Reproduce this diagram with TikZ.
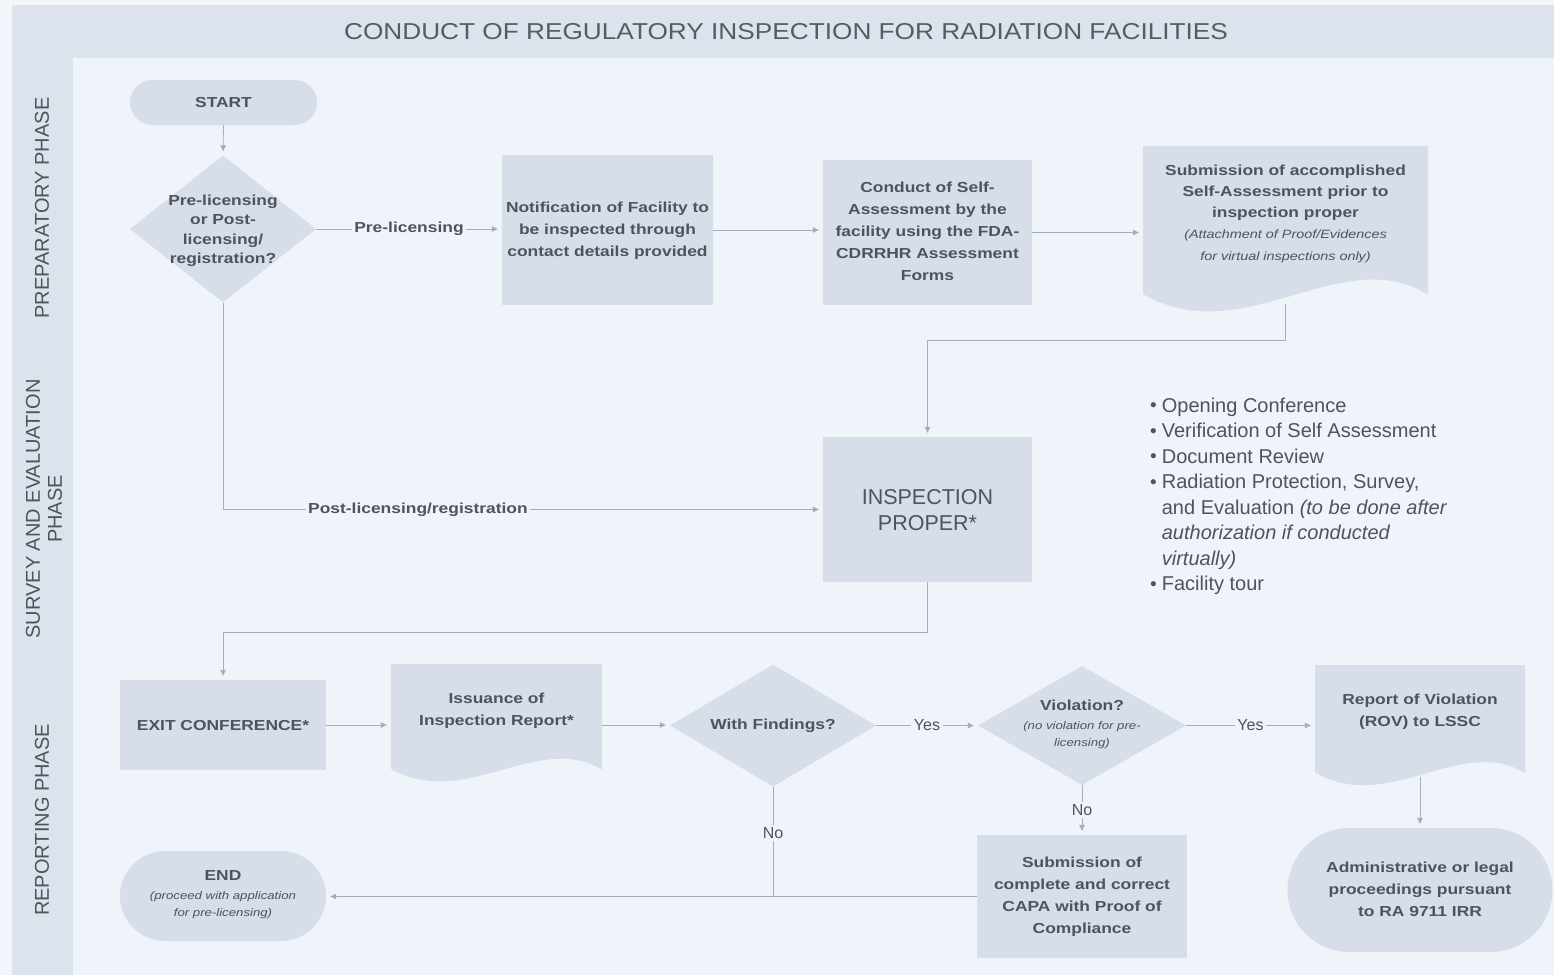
\documentclass[tikz,border=0pt]{standalone}
\usepackage{fontspec}
\setmainfont{Liberation Sans}
\newfontfamily\wide[FakeStretch=1.2]{Liberation Sans}
\newfontfamily\titlef[FakeStretch=1.14]{Liberation Sans}
\usetikzlibrary{shapes.geometric,shapes.misc,arrows.meta,calc}
\definecolor{outerc}{HTML}{F2F6FA}
\definecolor{bandc}{HTML}{DCE3ED}
\definecolor{innerc}{HTML}{EEF4FA}
\definecolor{nodec}{HTML}{D7DDE9}
\definecolor{textc}{HTML}{4E545C}
\definecolor{titlec}{HTML}{565C64}
\definecolor{linec}{HTML}{A6ADB6}
\newcommand{\zb}[2][-3.6pt]{\smash{\makebox[0pt]{\raisebox{#1}{\begin{tabular}{@{}c@{}}#2\end{tabular}}}}}
\newcommand{\smit}[1]{{\mdseries\itshape\fontsize{12}{15}\selectfont #1}}
\newcommand{\tnit}[1]{{\mdseries\itshape\fontsize{11}{13}\selectfont #1}}
\newcommand{\bul}{{\fontsize{19}{19}\selectfont\raisebox{0.5pt}{•}}}
\tikzset{
  base/.style={inner sep=0pt, text=textc, font=\wide\bfseries\fontsize{14.5}{22}\selectfont},
  box/.style={base, rectangle, fill=nodec},
  term/.style={base, rounded rectangle, fill=nodec},
  dec/.style={base, diamond, fill=nodec},
  doc/.style={base, rectangle, path picture={
    \fill[nodec] let \p1=(path picture bounding box.south west), \p2=(path picture bounding box.north east) in
      (\x1,\y2) -- (\x2,\y2) -- (\x2,{\y1+0.135*(\y2-\y1)})
      .. controls ({\x1+0.7*(\x2-\x1)},{\y1+0.45*(\y2-\y1)}) and ({\x1+0.35*(\x2-\x1)},{\y1-0.2*(\y2-\y1)}) ..
      (\x1,{\y1+0.14*(\y2-\y1)}) -- cycle;}},
  arr/.style={draw=linec, line width=0.8pt, -{Triangle[length=6pt,width=5.5pt]}, shorten >=4pt},
  con/.style={draw=linec, line width=0.8pt},
  lbl/.style={fill=innerc, inner sep=2.5pt, text=textc, font=\fontsize{16}{19}\selectfont},
  blbl/.style={lbl, font=\wide\bfseries\fontsize{14.5}{18}\selectfont},
  lane/.style={rotate=90, text=textc, align=center, font=\fontsize{20}{22}\selectfont},
}
\begin{document}
\begin{tikzpicture}[x=1pt,y=-1pt]
\useasboundingbox (0,0) rectangle (1554,975);
\fill[outerc] (0,0) rectangle (1554,975);
\fill[bandc] (12,5) rectangle (1554,975);
\fill[innerc] (73,58) rectangle (1554,975);

\node[text=titlec, font=\titlef\fontsize{23}{27}\selectfont] (title) at (786,32) {CONDUCT OF REGULATORY INSPECTION FOR RADIATION FACILITIES};
\node[lane] (lane1) at (42,208) {PREPARATORY PHASE};
\node[lane] (lane2) at (44,509) {SURVEY AND EVALUATION\\PHASE};
\node[lane] (lane3) at (42,820) {REPORTING PHASE};

% nodes
\node[term, minimum width=187pt, minimum height=45pt] (start) at (223.5,102.5) {START};
\node[dec, minimum width=186pt, minimum height=147pt, font=\wide\bfseries\fontsize{14.5}{19.5}\selectfont] (d1) at (223,229) {\zb[-5pt]{Pre-licensing\\or Post-\\licensing/\\registration?}};
\node[box, minimum width=211pt, minimum height=150pt] (notif) at (607.5,230) {\zb{Notification of Facility to\\be inspected through\\contact details provided}};
\node[box, minimum width=209pt, minimum height=145pt] (conduct) at (927.5,232.5) {\zb{Conduct of Self-\\Assessment by the\\facility using the FDA-\\CDRRHR Assessment\\Forms}};
\node[doc, minimum width=285pt, minimum height=172pt, font=\wide\bfseries\fontsize{14.5}{21.3}\selectfont] (sub) at (1285.5,232) {\zb[15pt]{Submission of accomplished\\Self-Assessment prior to\\inspection proper\\\smit{(Attachment of Proof/Evidences}\\\smit{for virtual inspections only)}}};
\node[box, minimum width=209pt, minimum height=145pt, font=\fontsize{21.5}{26}\selectfont] (insp) at (927.5,509.5) {\zb[-8pt]{INSPECTION\\PROPER*}};
\node[anchor=north west, inner sep=0pt, text=textc, font=\fontsize{20}{25.5}\selectfont] (list) at (1150,394) {\begin{tabular}{@{}l@{\hspace{5pt}}l@{}}
\bul & Opening Conference\\
\bul & Verification of Self Assessment\\
\bul & Document Review\\
\bul & Radiation Protection, Survey,\\
 & and Evaluation \textit{(to be done after}\\
 & \textit{authorization if conducted}\\
 & \textit{virtually)}\\
\bul & Facility tour
\end{tabular}};

\node[box, minimum width=206pt, minimum height=90pt] (exit) at (223,725) {EXIT CONFERENCE*};
\node[doc, minimum width=211pt, minimum height=122pt] (iss) at (496.5,725) {\zb[11.4pt]{Issuance of\\Inspection Report*}};
\node[dec, minimum width=206pt, minimum height=122pt] (wf) at (773,725.5) {\zb{With Findings?}};
\node[dec, minimum width=208pt, minimum height=119pt, font=\wide\bfseries\fontsize{14.5}{17}\selectfont] (viol) at (1082,725.5) {\zb[-3pt]{Violation?\\[2pt]\tnit{(no violation for pre-}\\\tnit{licensing)}}};
\node[doc, minimum width=210pt, minimum height=125pt] (rov) at (1420,727.5) {\zb[12.9pt]{Report of Violation\\(ROV) to LSSC}};
\node[term, minimum width=265pt, minimum height=124pt] (adm) at (1420,890) {\zb{Administrative or legal\\proceedings pursuant\\to RA 9711 IRR}};
\node[box, minimum width=210pt, minimum height=123pt] (capa) at (1082,896.5) {\zb{Submission of\\complete and correct\\CAPA with Proof of\\Compliance}};
\node[term, minimum width=206pt, minimum height=90pt, font=\wide\bfseries\fontsize{14.5}{17}\selectfont] (end) at (223,896) {\zb[-3pt]{END\\[2pt]\tnit{(proceed with application}\\\tnit{for pre-licensing)}}};

% helper coordinates
\coordinate (j1) at (0,340);
\coordinate (j2) at (0,632);

% connectors
\draw[arr] (start.south) -- (d1.north);
\draw[arr] (d1.east) -- node[blbl]{Pre-licensing} (d1.east -| notif.west);
\draw[arr] (notif.east) -- (notif.east -| conduct.west);
\draw[arr] (conduct.east) -- (conduct.east -| sub.west);
\draw[arr] ($(sub.south)+(0,-14)$) -- (sub.south |- j1) -| (insp.north);
\draw[arr] (d1.south) |- node[blbl, pos=0.6625]{Post-licensing/registration} (insp.west);
\draw[arr] (insp.south) -- (insp.south |- j2) -| (exit.north);
\draw[arr] (exit.east) -- (exit.east -| iss.west);
\draw[arr] (iss.east) -- (iss.east -| wf.west);
\draw[arr] (wf.east) -- node[lbl]{Yes} (wf.east -| viol.west);
\draw[arr] (viol.east) -- node[lbl]{Yes} (viol.east -| rov.west);
\draw[arr] ($(rov.south)+(0,-13)$) -- (adm.north);
\draw[arr] (viol.south) -- node[lbl]{No} (capa.north);
\draw[arr] (capa.west) -- (capa.west -| end.east);
\draw[con] (wf.south) -- node[lbl, pos=0.42]{No} (wf.south |- end.east);
\end{tikzpicture}
\end{document}
